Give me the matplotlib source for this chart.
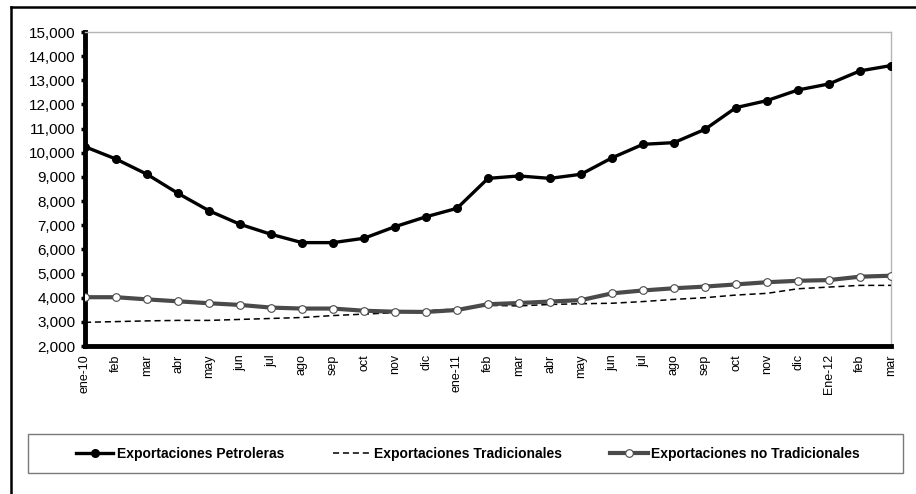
import matplotlib
matplotlib.use('Agg')
import matplotlib.pyplot as plt
from matplotlib.patches import Rectangle
from matplotlib.lines import Line2D
from matplotlib.ticker import FixedLocator, FuncFormatter

plt.rcParams['font.family'] = ['Liberation Sans', 'DejaVu Sans']

# monthly data, ene-10 .. mar-12
months = ['ene-10', 'feb', 'mar', 'abr', 'may', 'jun', 'jul', 'ago', 'sep', 'oct', 'nov', 'dic',
          'ene-11', 'feb', 'mar', 'abr', 'may', 'jun', 'jul', 'ago', 'sep', 'oct', 'nov', 'dic',
          'Ene-12', 'feb', 'mar']
petroleras = [10250, 9740, 9110, 8320, 7600, 7040, 6625, 6280, 6280, 6460, 6940, 7350,
              7700, 8940, 9040, 8940, 9110, 9790, 10350, 10420, 10970, 11870, 12160, 12600,
              12850, 13390, 13610]
tradicionales = [2980, 3010, 3040, 3060, 3060, 3100, 3140, 3180, 3260, 3320, 3380, 3460,
                 3530, 3680, 3660, 3720, 3750, 3770, 3840, 3930, 4000, 4110, 4180, 4370,
                 4440, 4510, 4510]
no_tradicionales = [4020, 4020, 3930, 3850, 3770, 3700, 3590, 3550, 3550, 3460, 3420, 3410,
                    3490, 3730, 3780, 3840, 3900, 4180, 4300, 4390, 4460, 4550, 4640, 4700,
                    4730, 4870, 4910]
labels = ['Exportaciones Petroleras', 'Exportaciones Tradicionales', 'Exportaciones no Tradicionales']

W, H = 916, 494
fig = plt.figure(figsize=(W / 100, H / 100), dpi=100)
fig.patch.set_facecolor('white')
ax = fig.add_axes([85 / W, 1 - 346 / H, (891 - 85) / W, (346 - 32) / H])

x = list(range(len(months)))
l1, = ax.plot(x, petroleras, '-o', color='black', lw=2.4, ms=5.5, zorder=4)
l2, = ax.plot(x, tradicionales, '--', color='black', lw=1.1, dashes=(4, 2.5), zorder=3)
l3, = ax.plot(x, no_tradicionales, '-o', color='#4a4a4a', lw=3.0, ms=5.5,
              markerfacecolor='white', markeredgecolor='#4a4a4a', markeredgewidth=0.8, zorder=3)

ax.set_xlim(0, len(months) - 1)
ax.set_ylim(2000, 15000)
ax.set_yticks(range(2000, 15001, 1000))
ax.yaxis.set_major_formatter(FuncFormatter(lambda v, p: f'{int(v):,}'))
ax.tick_params(axis='y', direction='out', length=3, width=2.5, labelsize=11, pad=4)

# every month labelled, tick marks only every six months
ax.set_xticks(x)
ax.set_xticklabels(months, rotation=90, fontsize=9)
ax.tick_params(axis='x', which='major', length=0, pad=6)
ax.xaxis.set_minor_locator(FixedLocator([0, 6, 12, 18, 24]))
ax.tick_params(axis='x', which='minor', length=3, width=3, direction='out')

ax.spines['left'].set_linewidth(3.5)
ax.spines['bottom'].set_linewidth(3.5)
for s in ['top', 'right']:
    ax.spines[s].set_color('#b4b4b4')
    ax.spines[s].set_linewidth(1.0)

# outer frame (only top and left visible)
fig.add_artist(Line2D([11 / W, 1.0], [1 - 7 / H, 1 - 7 / H], color='black', lw=1.8))
fig.add_artist(Line2D([11 / W, 11 / W], [0, 1 - 7 / H], color='black', lw=1.8))

# legend box
fig.add_artist(Rectangle((28 / W, 1 - 473 / H), (903 - 28) / W, (473 - 434) / H,
                         transform=fig.transFigure, fill=False, edgecolor='#7a7a7a', lw=1.0))
fig.legend([l1, l2, l3], labels, loc='center', bbox_to_anchor=(468 / W, 1 - 454 / H),
           ncol=3, frameon=False, handlelength=2.7, handletextpad=0.25, columnspacing=3.5,
           numpoints=1, prop={'weight': 'bold', 'size': 10})

fig.savefig('out.png', dpi=100)
